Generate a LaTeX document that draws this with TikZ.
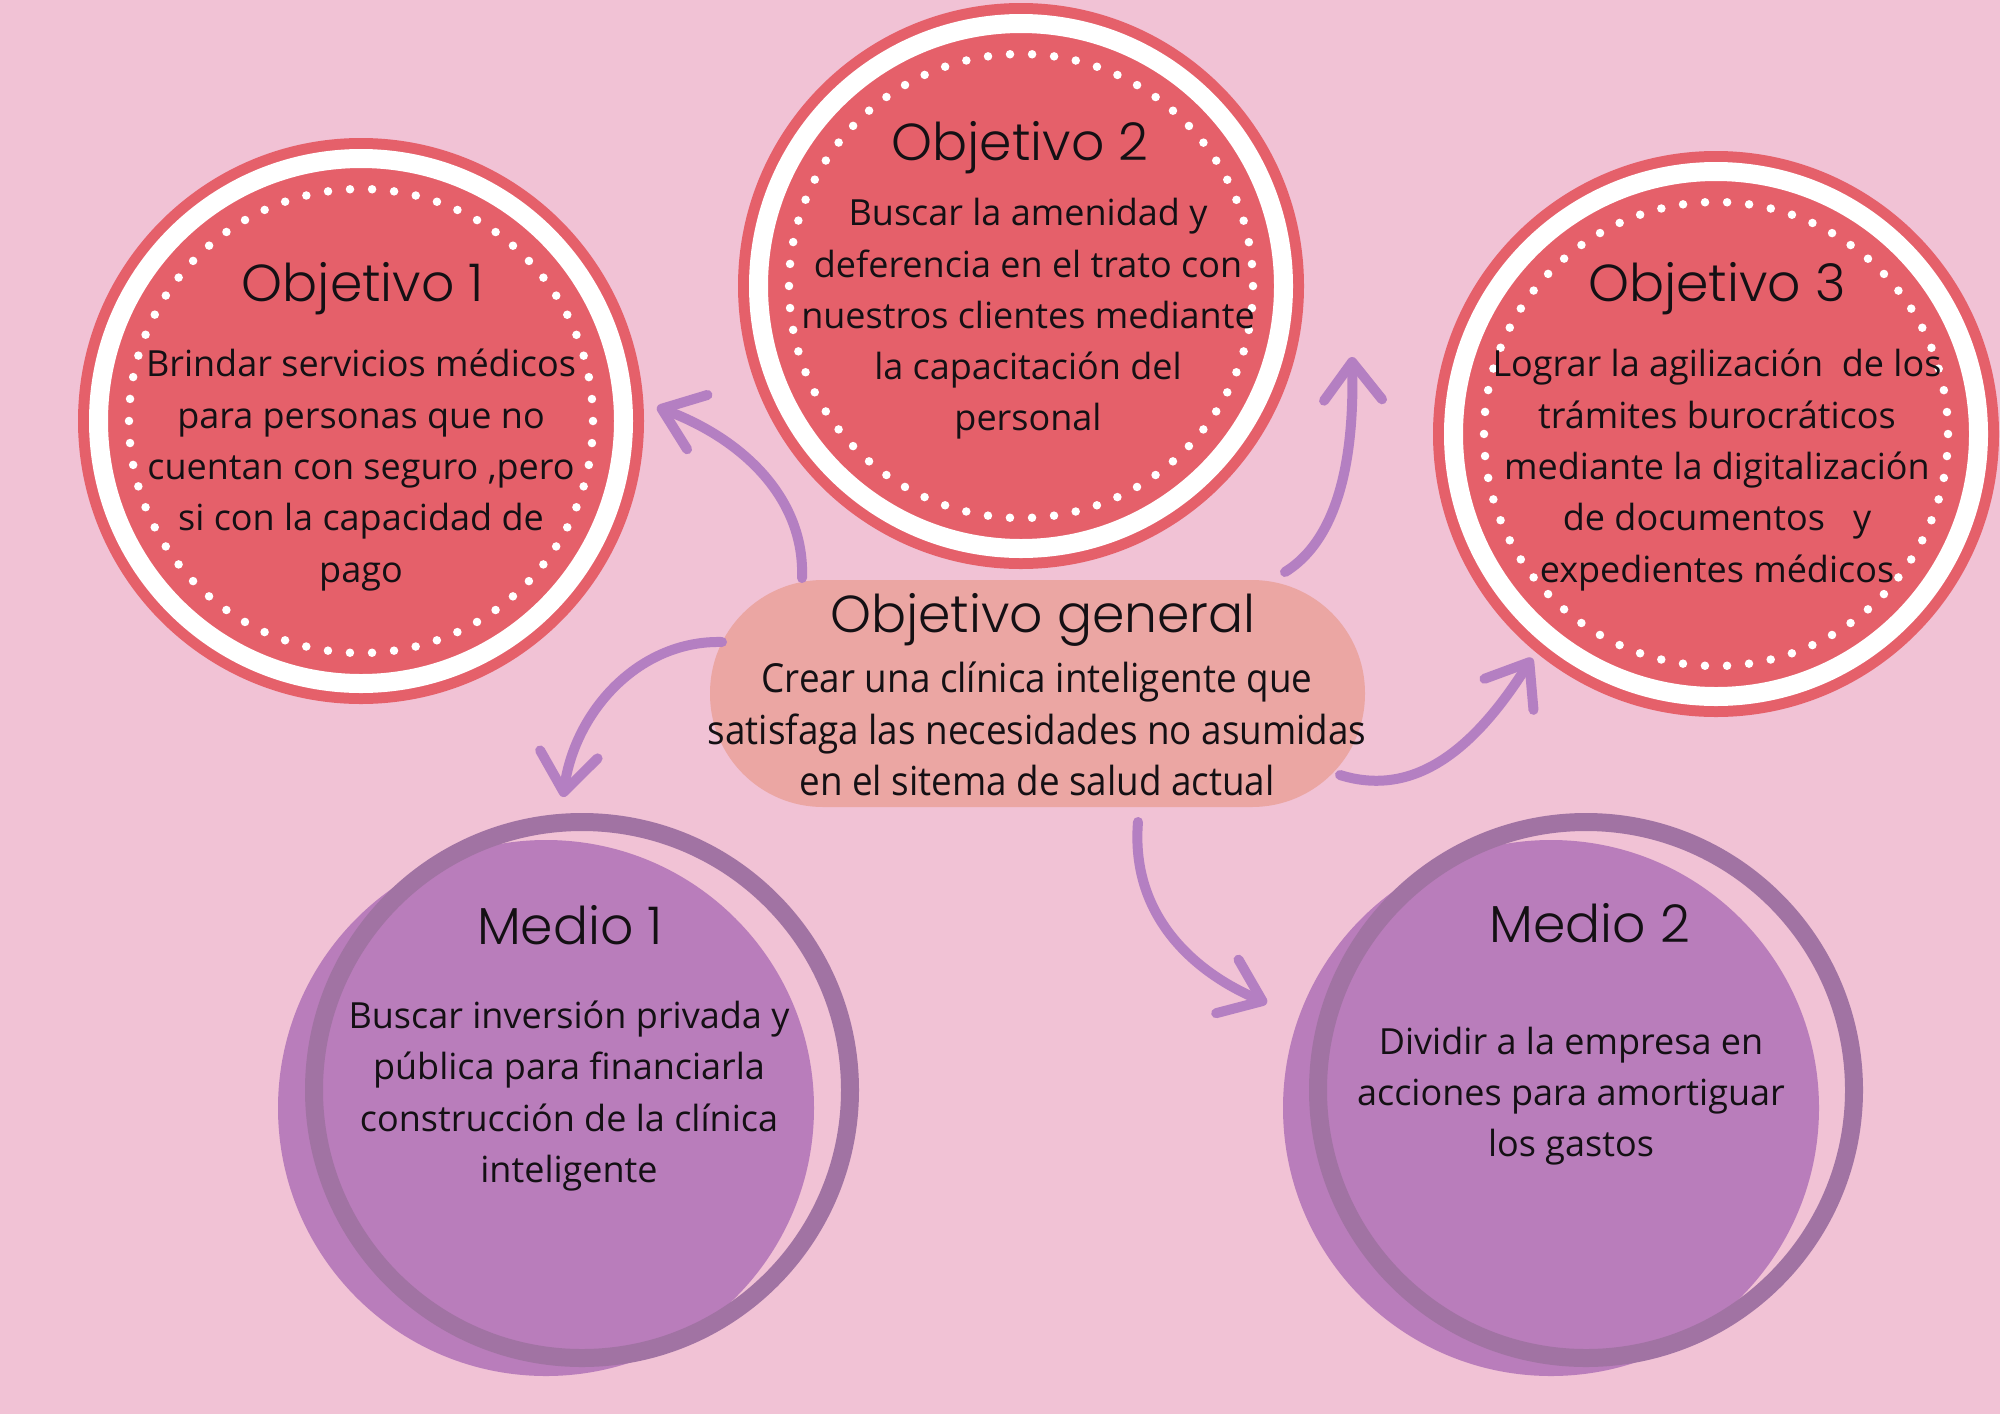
\documentclass[tikz,border=0pt]{standalone}
\usepackage{fontspec}
\setmainfont{Open Sans}
\newfontfamily\titlefont{Poppins Light}
\newfontfamily\condfont[FakeStretch=0.92]{Open Sans}
\usetikzlibrary{arrows.meta}
\definecolor{bgc}{HTML}{F1C2D5}
\definecolor{redc}{HTML}{E5606A}
\definecolor{genc}{HTML}{EBA6A3}
\definecolor{purpfill}{HTML}{B97DBB}
\definecolor{purpring}{HTML}{A173A3}
\definecolor{arrowc}{HTML}{B47FC2}
\definecolor{txtc}{HTML}{141014}
\tikzset{
  objcirc/.style={circle, inner sep=0pt, minimum size=566pt, fill=redc},
  whitering/.style={white, line width=19pt},
  dotring/.style={white, line width=8.5pt, line cap=round, dash pattern=on 0pt off 22.09pt},
  medfill/.style={circle, inner sep=0pt, minimum size=536pt, fill=purpfill},
  medring/.style={purpring, line width=18pt},
  genbox/.style={rectangle, rounded corners=113pt, minimum width=655pt, minimum height=227pt, fill=genc, inner sep=0pt},
  titletext/.style={text=txtc, font=\titlefont\fontsize{52}{60}\selectfont},
  bodytext/.style={text=txtc, align=center, font=\fontsize{36}{51.3}\selectfont},
  gentext/.style={text=txtc, align=center, font=\condfont\fontsize{40}{51.3}\selectfont},
  conn/.style={arrowc, line width=10pt, line cap=round, -{Straight Barb[length=38pt,width=58pt,round]}},
}
\begin{document}
\begin{tikzpicture}[x=1pt,y=-1pt]
\useasboundingbox (0,0) rectangle (2000,1414);
\fill[bgc] (0,0) rectangle (2000,1414);

% Objetivo circles
\node[objcirc] (o1) at (361,421) {};
\draw[whitering] (o1.center) circle (262.5);
\draw[dotring] (o1.center) circle (232);
\node[objcirc] (o2) at (1021,286) {};
\draw[whitering] (o2.center) circle (262.5);
\draw[dotring] (o2.center) circle (232);
\node[objcirc] (o3) at (1716,434) {};
\draw[whitering] (o3.center) circle (262.5);
\draw[dotring] (o3.center) circle (232);

\node[titletext] (o1t) at (363,289) {Objetivo 1};
\node[bodytext] (o1b) at (361,470) {Brindar servicios médicos\\para personas que no\\cuentan con seguro ,pero\\si con la capacidad de\\pago};
\node[titletext] (o2t) at (1020,148) {Objetivo 2};
\node[bodytext] (o2b) at (1028,319) {Buscar la amenidad y\\deferencia en el trato con\\nuestros clientes mediante\\la capacitación del\\personal};
\node[titletext] (o3t) at (1717,289) {Objetivo 3};
\node[bodytext] (o3b) at (1717,470) {Lograr la agilización\ \ de los\\trámites burocráticos\\mediante la digitalización\\de documentos\ \ \ y\\expedientes médicos};

% Medio circles
\node[medfill] (m1) at (546,1108) {};
\draw[medring] (582,1090) circle (268);
\node[medfill] (m2) at (1551,1108) {};
\draw[medring] (1586,1090) circle (268);
\node[titletext] (m1t) at (570,925) {Medio 1};
\node[bodytext] (m1b) at (569,1096) {Buscar inversión privada y\\pública para financiarla\\construcción de la clínica\\inteligente};
\node[titletext] (m2t) at (1590,923) {Medio 2};
\node[bodytext] (m2b) at (1571,1096) {Dividir a la empresa en\\acciones para amortiguar\\los gastos};

% Objetivo general
\node[genbox] (gen) at (1037.5,693.5) {};
\node[titletext] (gent) at (1043,620) {Objetivo general};
\node[gentext] (genb) at (1037,729) {Crear una clínica inteligente que\\satisfaga las necesidades no asumidas\\en el sitema de salud actual};

% connector end points
\coordinate (a1s) at (802,578);
\coordinate (a1e) at (657,407);
\coordinate (a2s) at (1285,572);
\coordinate (a2e) at (1352,357);
\coordinate (a3s) at (1340,775);
\coordinate (a3e) at (1532,658);
\coordinate (a4s) at (722,642);
\coordinate (a4e) at (563,797);
\coordinate (a5s) at (1138,822);
\coordinate (a5e) at (1267,1003);

\draw[conn] (a1s) .. controls (805,500) and (745,440) .. (a1e);
\draw[conn] (a2s) .. controls (1345,535) and (1354,440) .. (a2e);
\draw[conn] (a3s) .. controls (1420,800) and (1480,740) .. (a3e);
\draw[conn] (a4s) .. controls (640,640) and (575,710) .. (a4e);
\draw[conn] (a5s) .. controls (1130,920) and (1200,975) .. (a5e);
\end{tikzpicture}
\end{document}
